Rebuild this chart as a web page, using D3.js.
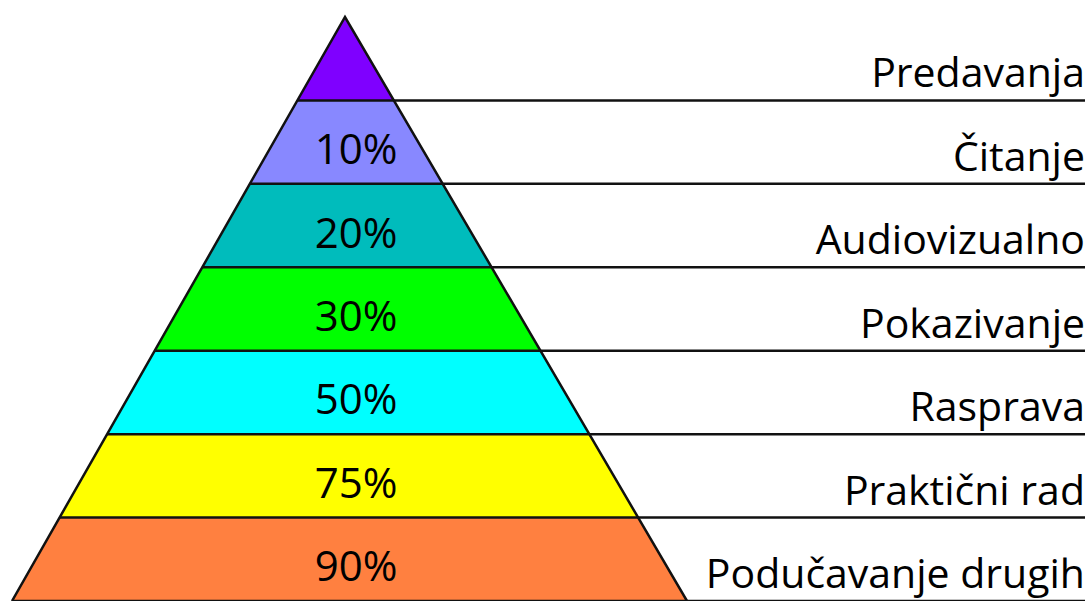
<!DOCTYPE html>
<html>
<head>
<meta charset="utf-8">
<script src="https://cdn.jsdelivr.net/npm/d3@7"></script>
<style>
  body { margin: 0; background: #fff; }
  svg text { font-family: "Open Sans", sans-serif; fill: #000; }
</style>
</head>
<body>
<div id="chart"></div>
<script>
// levels from top (apex) to bottom
var levels = ["Predavanja", "Čitanje", "Audiovizualno", "Pokazivanje", "Rasprava", "Praktični rad", "Podučavanje drugih"];
var percents = ["", "10%", "20%", "30%", "50%", "75%", "90%"];
var colors = ["#7f00ff", "#8888ff", "#00bcbc", "#00ff00", "#00ffff", "#ffff00", "#ff8040"];

var W = 1091, H = 601;
var svg = d3.select("#chart").append("svg")
    .attr("width", W)
    .attr("height", H);

// band index -> y
var y = d3.scaleLinear().domain([0, levels.length]).range([17, 601]);
// band index -> left / right edge of the pyramid
var xl = d3.scaleLinear().domain([0, levels.length]).range([345, 12]);
var xr = d3.scaleLinear().domain([0, levels.length]).range([345, 687]);

// bands
svg.selectAll("path.band")
    .data(levels)
    .enter().append("path")
    .attr("class", "band")
    .attr("d", function(d, i) {
        return "M" + xl(i) + "," + y(i) + "L" + xr(i) + "," + y(i) +
               "L" + xr(i + 1) + "," + y(i + 1) + "L" + xl(i + 1) + "," + y(i + 1) + "Z";
    })
    .attr("fill", function(d, i) { return colors[i]; });

// separator lines (inside pyramid + out to the labels)
svg.selectAll("line.sep")
    .data(levels)
    .enter().append("line")
    .attr("class", "sep")
    .attr("x1", function(d, i) { return xl(i + 1); })
    .attr("x2", 1085)
    .attr("y1", function(d, i) { return y(i + 1); })
    .attr("y2", function(d, i) { return y(i + 1); })
    .attr("stroke", "#111")
    .attr("stroke-width", 2.5);

// outer edges
svg.append("path")
    .attr("d", "M" + xl(levels.length) + "," + y(levels.length) + "L" + xl(0) + "," + y(0) +
               "L" + xr(levels.length) + "," + y(levels.length))
    .attr("fill", "none")
    .attr("stroke", "#111")
    .attr("stroke-width", 2.5)
    .attr("stroke-linejoin", "miter");

// percentages
svg.selectAll("text.pct")
    .data(percents)
    .enter().append("text")
    .attr("class", "pct")
    .attr("x", 356)
    .attr("y", function(d, i) { return (y(i) + y(i + 1)) / 2 + 22; })
    .attr("text-anchor", "middle")
    .style("font-size", "42px")
    .text(function(d) { return d; });

// level names
svg.selectAll("text.lvl")
    .data(levels)
    .enter().append("text")
    .attr("class", "lvl")
    .attr("x", 1085)
    .attr("y", function(d, i) { return y(i + 1) - 13; })
    .attr("text-anchor", "end")
    .style("font-size", "41px")
    .text(function(d) { return d; });
</script>
</body>
</html>
